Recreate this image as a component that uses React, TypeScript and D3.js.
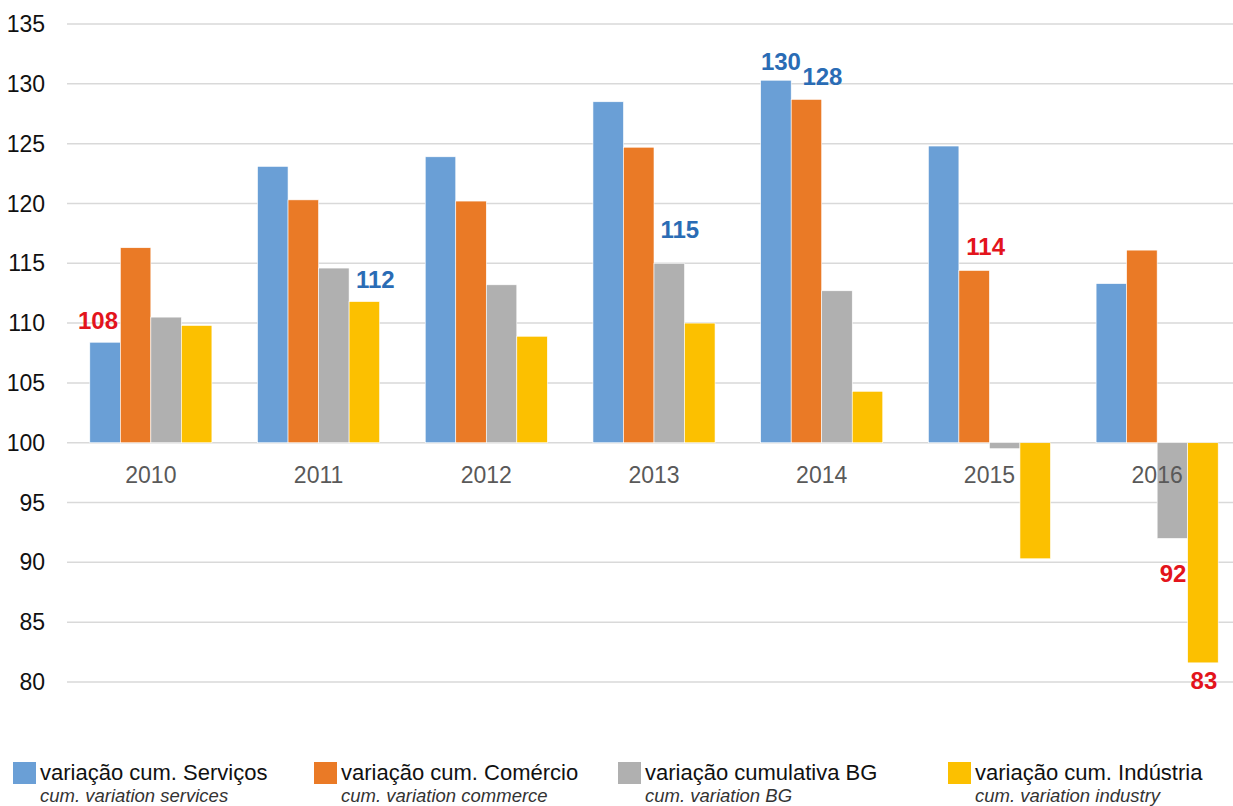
import React from "react";
import * as d3 from "d3";

const years = ["2010", "2011", "2012", "2013", "2014", "2015", "2016"];
const services = [108.4, 123.1, 123.9, 128.5, 130.3, 124.8, 113.3];
const commerce = [116.3, 120.3, 120.2, 124.7, 128.7, 114.4, 116.1];
const bg = [110.5, 114.6, 113.2, 115.0, 112.7, 99.5, 92.0];
const industry = [109.8, 111.8, 108.9, 110.0, 104.3, 90.3, 81.6];
const yTicks = [80, 85, 90, 95, 100, 105, 110, 115, 120, 125, 130, 135];

const seriesNames = [
  "variação cum. Serviços",
  "variação cum. Comércio",
  "variação cumulativa BG",
  "variação cum. Indústria",
];
const seriesSubNames = [
  "cum. variation services",
  "cum. variation commerce",
  "cum. variation BG",
  "cum. variation industry",
];
const seriesKeys = ["services", "commerce", "bg", "industry"];
const colors = ["#6a9fd6", "#ea7a26", "#b0b0b0", "#fcc000"];

// value labels: year, series index, text, tone
const valueLabels = [
  { year: "2010", s: 0, text: "108", tone: "red" },
  { year: "2011", s: 3, text: "112", tone: "blue" },
  { year: "2013", s: 2, text: "115", tone: "blue" },
  { year: "2014", s: 0, text: "130", tone: "blue" },
  { year: "2014", s: 1, text: "128", tone: "blue" },
  { year: "2015", s: 1, text: "114", tone: "red" },
  { year: "2016", s: 2, text: "92", tone: "red" },
  { year: "2016", s: 3, text: "83", tone: "red" },
];
// placement of each label relative to its bar (dx from bar centre, dy from bar end)
const labelPlacement = [
  { anchor: "end", dx: 13, dy: -13 },
  { anchor: "middle", dx: 11, dy: -14 },
  { anchor: "middle", dx: 10.5, dy: -25 },
  { anchor: "middle", dx: 5, dy: -10 },
  { anchor: "middle", dx: 16, dy: -14 },
  { anchor: "middle", dx: 11.5, dy: -15 },
  { anchor: "end", dx: 14, dy: 44 },
  { anchor: "middle", dx: 1, dy: 26 },
];

const W = 1233;
const H = 806;
const FONT = "'Liberation Sans', Arial, sans-serif";

export default function App() {
  const allSeries = [services, commerce, bg, industry];
  const y = d3.scaleLinear().domain([80, 135]).range([682, 24]);
  const x0 = d3
    .scaleBand<string>()
    .domain(years)
    .range([67, 1241])
    .paddingInner(0.272)
    .paddingOuter(0.136);
  const x1 = d3
    .scaleBand<string>()
    .domain(seriesKeys)
    .range([0, x0.bandwidth()])
    .padding(0);

  const base = y(100);
  const legendX = [13, 314, 618, 948];

  return (
    <svg
      width={W}
      height={H}
      style={{ position: "absolute", left: 0, top: 0, background: "#fff" }}
      fontFamily={FONT}
    >
      {yTicks.map((t) => (
        <g key={t}>
          <line x1={67} x2={W} y1={y(t)} y2={y(t)} stroke="#d9d9d9" strokeWidth={1.5} />
          <text x={45} y={y(t)} dy="0.35em" textAnchor="end" fontSize={23} fill="#111">
            {t}
          </text>
        </g>
      ))}
      {years.map((yr, i) => (
        <g key={yr} transform={`translate(${x0(yr)},0)`}>
          {allSeries.map((ser, s) => {
            const v = ser[i];
            const top = Math.min(y(v), base);
            const h = Math.abs(y(v) - base);
            return (
              <rect
                key={s}
                x={x1(seriesKeys[s])}
                y={top}
                width={x1.bandwidth()}
                height={h}
                fill={colors[s]}
                stroke="#fff"
                strokeWidth={0.6}
              />
            );
          })}
          <text
            x={x0.bandwidth() / 2}
            y={483}
            textAnchor="middle"
            fontSize={23}
            fill="#595959"
          >
            {yr}
          </text>
        </g>
      ))}
      {valueLabels.map((l, k) => {
        const i = years.indexOf(l.year);
        const v = allSeries[l.s][i];
        const cx = (x0(l.year) as number) + (x1(seriesKeys[l.s]) as number) + x1.bandwidth() / 2;
        const p = labelPlacement[k];
        return (
          <text
            key={k}
            x={cx + p.dx}
            y={y(v) + p.dy}
            textAnchor={p.anchor}
            fontSize={24}
            fontWeight="bold"
            fill={l.tone === "red" ? "#e3141c" : "#2a6cb5"}
          >
            {l.text}
          </text>
        );
      })}
      {seriesNames.map((n, s) => (
        <g key={n} transform={`translate(${legendX[s]},0)`}>
          <rect x={0} y={762} width={23} height={22} fill={colors[s]} />
          <text x={27} y={780} fontSize={22} fill="#111">
            {n}
          </text>
          <text x={27} y={802} fontSize={18.5} fontStyle="italic" fill="#333">
            {seriesSubNames[s]}
          </text>
        </g>
      ))}
    </svg>
  );
}
